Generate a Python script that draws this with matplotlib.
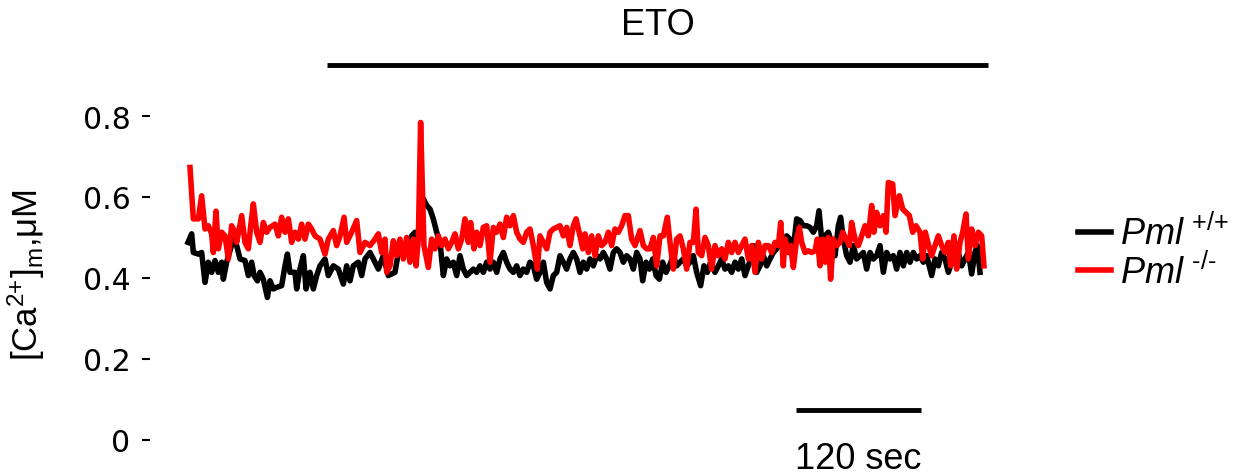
import matplotlib
matplotlib.use("Agg")
import matplotlib.pyplot as plt
from matplotlib.font_manager import FontProperties

# Pml +/+ trace (time in s, [Ca2+]m in uM)
t_wt = [0.0, 3.5, 5.1, 9.9, 13.1, 16.3, 19.5, 22.7, 25.9, 29.1, 32.3, 33.9, 37.1, 43.5, 46.7, 49.9,
        54.7, 57.9, 61.1, 63.4, 66.6, 69.1, 72.3, 76.2, 78.7, 81.9, 85.1, 89.9, 93.1, 95.4, 97.9,
        102.7, 104.3, 107.5, 110.7, 113.3, 117.1, 120.3, 123.5, 126.7, 131.5, 134.7, 139.5, 144.3,
        149.1, 152.3, 155.5, 158.7, 163.5, 166.7, 169.9, 174.7, 177.9, 182.7, 187.5, 192.3,
        198.7, 201.9, 205.1, 208.3, 211.5, 214.7, 217.9, 221.1, 225.9, 229.1, 232.3, 235.5, 238.7,
        241.9, 245.1, 248.3, 251.5, 254.7, 257.9, 261.1, 264.3, 267.5, 270.7, 273.9, 277.1, 280.3,
        283.5, 286.7, 289.9, 293.1, 296.3, 299.5, 302.7, 305.9, 309.1, 312.3, 315.5, 318.7, 321.9,
        325.1, 328.3, 331.5, 334.7, 337.9, 341.1, 344.3, 347.5, 350.7, 353.9, 357.1, 360.3, 363.5,
        366.7, 369.9, 373.1, 376.3, 379.5, 382.7, 385.9, 389.1, 392.3, 395.5, 398.7, 401.9, 405.1,
        408.3, 411.5, 414.7, 417.9, 421.1, 424.3, 427.5, 430.7, 433.9, 436.5, 439.7, 442.9, 446.1,
        449.3, 452.5, 455.7, 458.9, 462.1, 465.9, 469.1, 472.3, 475.5, 478.7, 481.9, 485.1, 488.3,
        492.1, 495.3, 498.5, 501.7, 505.9, 509.1, 512.3, 515.5, 518.7, 521.9, 525.1, 528.3, 531.5,
        534.7, 537.9, 541.1, 542.7, 545.9, 549.1, 552.3, 555.5, 558.7, 561.9, 565.1, 568.3, 571.5,
        574.7, 577.9, 581.1, 584.3, 587.5, 590.7, 593.9, 597.1, 600.3, 603.5, 605.7, 608.3, 611.5,
        614.7, 617.9, 621.1, 624.3, 626.5, 629.1, 632.3, 635.5, 638.7, 641.9, 645.1, 648.3, 651.5,
        654.7, 657.9, 661.1, 664.3, 667.5, 670.7, 673.9, 677.1, 680.3, 683.5, 686.7, 689.9, 693.1,
        696.3, 699.5, 702.7, 705.9, 709.1, 712.3, 713.9, 717.1, 720.3, 723.5, 726.7, 729.9, 733.1,
        736.3, 739.5, 742.7, 745.9, 749.1, 752.3, 755.5, 757.7, 760.3]
ca_wt = [0.488, 0.509, 0.463, 0.459, 0.463, 0.389, 0.439, 0.414, 0.443, 0.414, 0.439, 0.397, 0.439,
         0.496, 0.480, 0.447, 0.443, 0.406, 0.439, 0.406, 0.393, 0.414, 0.397, 0.352, 0.393, 0.373,
         0.377, 0.381, 0.430, 0.459, 0.414, 0.414, 0.373, 0.422, 0.455, 0.373, 0.414, 0.373, 0.406,
         0.430, 0.447, 0.406, 0.430, 0.422, 0.385, 0.430, 0.393, 0.430, 0.439, 0.406, 0.447, 0.463,
         0.447, 0.422, 0.455, 0.406, 0.414, 0.463, 0.480, 0.480, 0.488, 0.504, 0.513, 0.496, 0.595,
         0.579, 0.570, 0.546, 0.513, 0.488, 0.406, 0.447, 0.430, 0.439, 0.406, 0.455, 0.422, 0.406,
         0.414, 0.422, 0.414, 0.430, 0.414, 0.439, 0.422, 0.439, 0.414, 0.447, 0.463, 0.439, 0.422,
         0.414, 0.430, 0.406, 0.422, 0.414, 0.439, 0.430, 0.397, 0.414, 0.439, 0.389, 0.373, 0.406,
         0.414, 0.455, 0.439, 0.422, 0.447, 0.463, 0.447, 0.414, 0.439, 0.422, 0.447, 0.430, 0.455,
         0.447, 0.463, 0.447, 0.422, 0.463, 0.472, 0.463, 0.439, 0.455, 0.447, 0.422, 0.463, 0.447,
         0.393, 0.439, 0.422, 0.447, 0.406, 0.397, 0.439, 0.414, 0.430, 0.455, 0.430, 0.439, 0.447,
         0.430, 0.439, 0.455, 0.414, 0.381, 0.430, 0.414, 0.439, 0.414, 0.430, 0.447, 0.422, 0.430,
         0.414, 0.439, 0.422, 0.447, 0.406, 0.430, 0.455, 0.480, 0.414, 0.430, 0.455, 0.430, 0.447,
         0.463, 0.472, 0.488, 0.480, 0.504, 0.496, 0.472, 0.546, 0.542, 0.529, 0.529, 0.525, 0.513,
         0.529, 0.566, 0.496, 0.504, 0.513, 0.488, 0.455, 0.529, 0.550, 0.496, 0.455, 0.439, 0.480,
         0.447, 0.455, 0.463, 0.422, 0.463, 0.447, 0.455, 0.480, 0.414, 0.463, 0.447, 0.455, 0.422,
         0.463, 0.430, 0.463, 0.439, 0.463, 0.447, 0.455, 0.439, 0.455, 0.422, 0.406, 0.447, 0.430,
         0.463, 0.447, 0.414, 0.439, 0.455, 0.463, 0.430, 0.447, 0.463, 0.410, 0.463, 0.480, 0.414]

# Pml -/- trace
t_ko = [1.9, 5.1, 9.9, 13.1, 16.3, 19.5, 22.7, 24.3, 26.9, 29.1, 32.3, 35.5, 38.7, 41.9, 45.1, 46.7,
        51.5, 54.7, 57.9, 60.2, 62.7, 65.9, 69.1, 72.3, 75.5, 78.7, 83.5, 86.7, 89.9, 93.1, 96.3,
        99.5, 102.7, 105.9, 109.1, 112.3, 115.5, 118.7, 121.9, 126.7, 131.5, 134.7, 139.5, 142.7,
        145.9, 149.8, 152.3, 157.1, 161.9, 165.1, 169.9, 174.7, 179.5, 182.7, 185.9, 189.1, 190.7,
        193.9, 197.1, 200.3, 203.5, 206.7, 209.9, 213.1, 216.3, 218.9, 221.1, 223.3, 226.5, 230.7,
        233.9, 237.1, 240.3, 243.5, 246.7, 249.9, 253.1, 256.3, 259.5, 262.7, 265.9, 269.1, 271.3,
        274.5, 277.1, 280.3, 283.5, 286.7, 289.9, 293.1, 296.3, 299.5, 302.7, 305.9, 309.1, 312.3,
        315.5, 318.7, 321.9, 325.1, 328.3, 331.5, 335.3, 337.9, 341.1, 344.3, 347.5, 350.7, 353.9,
        357.1, 360.3, 363.5, 366.7, 369.9, 372.5, 376.3, 378.9, 381.1, 384.3, 387.5, 390.7, 393.9,
        397.1, 400.3, 403.5, 406.7, 409.9, 413.1, 416.3, 419.5, 422.7, 425.9, 429.1, 433.9, 437.1,
        440.3, 443.5, 446.7, 449.9, 453.1, 456.3, 460.1, 462.7, 465.9, 469.1, 472.3, 475.5, 478.7,
        481.9, 485.1, 487.7, 489.9, 493.1, 496.3, 499.5, 502.7, 505.9, 509.1, 512.3, 515.5, 518.7,
        521.9, 525.1, 528.3, 531.5, 534.7, 537.9, 541.1, 544.3, 547.5, 550.7, 553.9, 557.1, 560.3,
        563.5, 566.7, 569.0, 571.5, 573.1, 576.3, 578.5, 581.1, 584.3, 586.9, 589.1, 592.3, 595.5,
        598.7, 601.9, 604.1, 606.7, 609.3, 611.5, 614.7, 616.9, 619.5, 622.7, 625.9, 628.5, 631.7,
        634.9, 637.1, 640.3, 643.5, 646.7, 649.9, 653.1, 656.3, 658.5, 661.1, 664.3, 667.5, 670.1,
        672.3, 676.5, 678.7, 682.9, 686.1, 689.3, 692.5, 695.7, 698.9, 702.7, 705.3, 707.8, 711.0,
        713.9, 717.1, 720.3, 723.5, 726.7, 729.9, 732.1, 735.3, 737.9, 741.1, 743.7, 746.9, 749.1,
        752.3, 755.5, 758.7, 761.9, 764.1]
ca_ko = [0.673, 0.546, 0.546, 0.603, 0.521, 0.529, 0.509, 0.463, 0.565, 0.472, 0.513, 0.504, 0.447,
         0.529, 0.513, 0.488, 0.554, 0.488, 0.472, 0.529, 0.583, 0.513, 0.488, 0.537, 0.513, 0.525,
         0.533, 0.504, 0.550, 0.513, 0.546, 0.488, 0.513, 0.496, 0.533, 0.496, 0.533, 0.521, 0.504,
         0.496, 0.459, 0.496, 0.517, 0.480, 0.504, 0.550, 0.488, 0.513, 0.542, 0.463, 0.488, 0.480,
         0.496, 0.509, 0.463, 0.496, 0.414, 0.430, 0.492, 0.455, 0.496, 0.447, 0.500, 0.439, 0.496,
         0.430, 0.496, 0.784, 0.480, 0.426, 0.496, 0.472, 0.504, 0.480, 0.496, 0.472, 0.488, 0.509,
         0.472, 0.496, 0.546, 0.488, 0.537, 0.472, 0.513, 0.480, 0.525, 0.529, 0.439, 0.525, 0.513,
         0.533, 0.500, 0.550, 0.529, 0.554, 0.513, 0.496, 0.488, 0.513, 0.521, 0.480, 0.422, 0.504,
         0.488, 0.472, 0.513, 0.521, 0.525, 0.529, 0.504, 0.525, 0.480, 0.529, 0.546, 0.504, 0.472,
         0.509, 0.463, 0.504, 0.455, 0.504, 0.480, 0.488, 0.513, 0.480, 0.521, 0.513, 0.529, 0.554,
         0.554, 0.496, 0.480, 0.517, 0.480, 0.472, 0.472, 0.500, 0.430, 0.504, 0.504, 0.550, 0.488,
         0.422, 0.496, 0.504, 0.472, 0.422, 0.488, 0.488, 0.570, 0.463, 0.455, 0.500, 0.480, 0.422,
         0.480, 0.455, 0.472, 0.447, 0.488, 0.463, 0.488, 0.463, 0.480, 0.496, 0.447, 0.480, 0.414,
         0.488, 0.447, 0.480, 0.480, 0.463, 0.488, 0.480, 0.537, 0.430, 0.496, 0.463, 0.480, 0.426,
         0.496, 0.525, 0.488, 0.463, 0.467, 0.463, 0.467, 0.496, 0.430, 0.496, 0.439, 0.500, 0.397,
         0.496, 0.480, 0.488, 0.513, 0.496, 0.480, 0.537, 0.496, 0.480, 0.504, 0.529, 0.504, 0.579,
         0.513, 0.562, 0.529, 0.554, 0.513, 0.636, 0.632, 0.554, 0.603, 0.570, 0.562, 0.554, 0.513,
         0.529, 0.513, 0.447, 0.513, 0.480, 0.455, 0.480, 0.504, 0.480, 0.463, 0.488, 0.430, 0.504,
         0.422, 0.488, 0.513, 0.558, 0.447, 0.521, 0.480, 0.513, 0.504, 0.430]

labels = [r'$\mathit{Pml}^{\ \mathrm{{+}/{+}}}$', r'$\mathit{Pml}^{\ \mathit{‐/‐}}$']
y_ticks = [0, 0.2, 0.4, 0.6, 0.8]
y_ticklabels = ['0', '0.2', '0.4', '0.6', '0.8']
eto_start, eto_end = 133.4, 768.0   # ETO application (s)
scale_start, scale_len = 583.7, 120  # scale bar (s)

plt.rcParams['mathtext.fontset'] = 'custom'
plt.rcParams['mathtext.it'] = 'Liberation Sans:italic'
plt.rcParams['mathtext.rm'] = 'Liberation Sans'

fig = plt.figure(figsize=(12.44, 4.77), dpi=100)
ax = fig.add_axes([150 / 1244, 17 / 477, 850 / 1244, 360 / 477])

ax.plot(t_wt, ca_wt, color='black', lw=4, label=labels[0], solid_joinstyle='round')
ax.plot(t_ko, ca_ko, color='#ff0000', lw=4, label=labels[1], solid_joinstyle='round')

ax.set_xlim(-36.5, 779.5)
ax.set_ylim(-0.047, 0.842)
for s in ax.spines.values():
    s.set_visible(False)
ax.set_xticks([])
ax.set_yticks(y_ticks)
ax.set_yticklabels(y_ticklabels, fontsize=21.5, family='DejaVu Sans')
ax.tick_params(axis='y', length=6, width=1.5, pad=8, colors='black')

ax.set_ylabel('[Ca$^{\\mathrm{2{+}}}$]$_{\\mathrm{m}}$,μM', fontsize=25, family='Liberation Sans',
              math_fontfamily='custom')
ax.yaxis.set_label_coords(-0.121, 0.515)

# ETO bar
ax.plot([eto_start, eto_end], [0.926, 0.926], color='black', lw=3.5, clip_on=False,
        solid_capstyle='butt')
ax.text((eto_start + eto_end) / 2, 1.025, 'ETO', ha='center', va='center', fontsize=26,
        family='Liberation Sans', clip_on=False)

# scale bar
ax.plot([scale_start, scale_start + scale_len], [0.074, 0.074], color='black', lw=3.5,
        solid_capstyle='butt')
ax.text(scale_start + scale_len / 2, -0.046, '120 sec', ha='center', va='center', fontsize=26,
        family='Liberation Sans', clip_on=False)

leg_prop = FontProperties(family='Liberation Sans', style='italic', size=26, math_fontfamily='custom')
ax.legend(loc='center left', bbox_to_anchor=(1.092, 0.572), frameon=False, prop=leg_prop,
          handlelength=0.9, handletextpad=0.25, labelspacing=0.05, borderaxespad=0, borderpad=0)

fig.savefig('out.png', dpi=100)
